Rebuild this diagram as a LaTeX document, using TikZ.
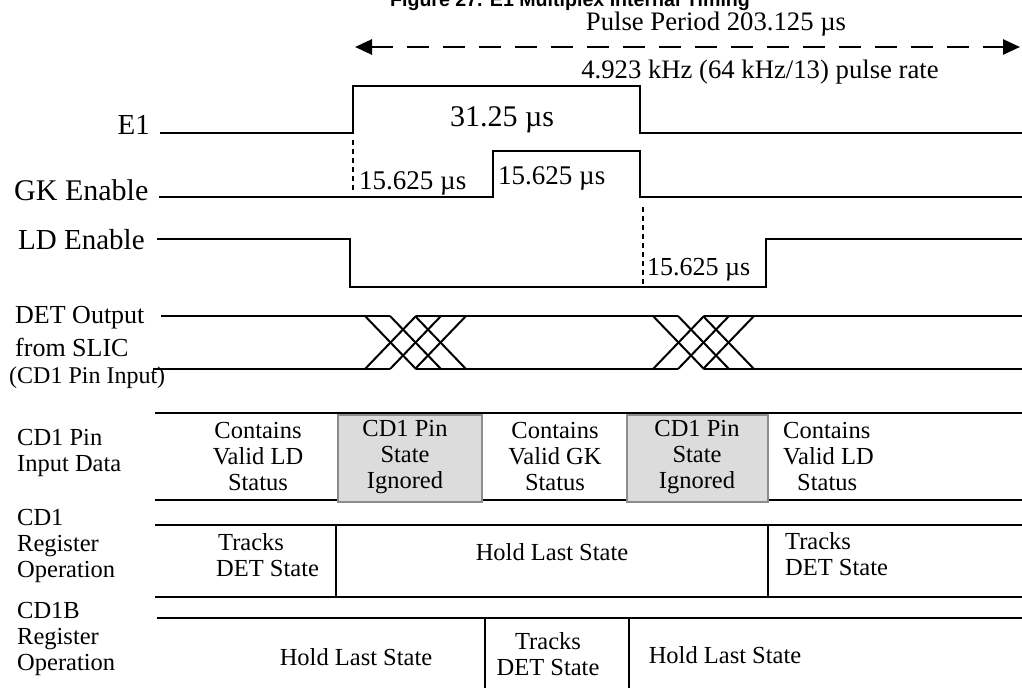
\documentclass[tikz,border=0pt]{standalone}
\usepackage{fontspec}
\setmainfont{Liberation Serif}
\newfontfamily\titlefont{Liberation Sans}
\usepackage{tikz}
\usetikzlibrary{arrows.meta}
\definecolor{ignfill}{HTML}{DCDCDC}
\definecolor{ignedge}{HTML}{8C8C8C}

\begin{document}
\begin{tikzpicture}[x=1pt,y=-1pt,
  every node/.style={inner sep=0pt,font=\fontsize{24.5}{26}\selectfont},
  big/.style={font=\fontsize{#1}{#1}\selectfont},
  sig/.style={line width=2.7pt},
  xing/.style={line width=2pt},
  dotline/.style={line width=2.7pt,dash pattern=on 5pt off 4pt},
  ignbox/.style={fill=ignfill,draw=ignedge,line width=2.7pt}]
  \useasboundingbox (0,0) rectangle (1022,688);
  \node[anchor=base,font=\titlefont\bfseries\fontsize{19.6}{22}\selectfont] (title) at (570,6) {Figure 27. E1 Multiplex Internal Timing};
  \node[anchor=base,big=26.7] (period) at (716,30) {Pulse Period 203.125 µs};
  \coordinate (pl) at (355,47);
  \coordinate (pr) at (1020,47);
  \draw[sig,dash pattern=on 22pt off 14pt,{Triangle[length=17pt,width=15pt]}-{Triangle[length=17pt,width=15pt]}] (pl) -- (pr);
  \node[anchor=base,big=26.7] (rate) at (760,78) {4.923 kHz (64 kHz/13) pulse rate};
  \node[anchor=east,big=29] (e1) at (150,125) {E1};
  \draw[sig] (160,133) -- (353,133) -- (353,86) -- (640,86) -- (640,133) -- (1022,133);
  \node[big=30] (e1w) at (502,120) {31.25 µs};
  \draw[dotline] (353,140) -- (353,191);
  \node[anchor=west,big=30] (gk) at (14,190) {GK Enable};
  \draw[sig] (159,197) -- (493,197) -- (493,151) -- (640,151) -- (640,197) -- (1022,197);
  \node[anchor=west,big=27] (gkw1) at (359,183) {15.625 µs};
  \node[anchor=west,big=27] (gkw2) at (498,178) {15.625 µs};
  \node[anchor=west,big=29] (ld) at (18,240) {LD Enable};
  \draw[sig] (157,239) -- (350,239) -- (350,287) -- (766,287) -- (766,239) -- (1022,239);
  \draw[dotline] (643,207) -- (643,284);
  \node[anchor=west,big=26] (ldw) at (647,270) {15.625 µs};
  \node[anchor=west,big=26] (det) at (15,318) {DET Output};
  \node[anchor=west,big=26] (slic) at (15,347) {from SLIC};
  \node[anchor=west,big=24] (cdin) at (9,378) {(CD1 Pin Input)};
  \draw[sig] (161,316) -- (390,316) (416,316) -- (678,316) (704,316) -- (1022,316);
  \draw[sig] (153,369) -- (390,369) (416,369) -- (678,369) (704,369) -- (1022,369);
  \foreach \a in {365,653} \foreach \i in {0,1,2} {
    \draw[xing] (\a+25*\i,316) -- (\a+25*\i+51,369);
    \draw[xing] (\a+25*\i,369) -- (\a+25*\i+51,316);
  }
  \node[anchor=west,align=left] (pinlbl) at (17,453) {CD1 Pin\\Input Data};
  \draw[sig] (155,413) -- (1022,413) (155,500) -- (1022,500);
  \foreach \l/\r in {338/482,627/768} \draw[ignbox] (\l,415) rectangle (\r,502);
  \node[align=center] (pin1) at (258,457) {Contains\\Valid LD\\Status};
  \node[align=center] (ign1) at (405,457) {CD1 Pin\\State\\Ignored};
  \node[align=center] (pin2) at (555,457) {Contains\\Valid GK\\Status};
  \node[align=center] (ign2) at (697,457) {CD1 Pin\\State\\Ignored};
  \node[anchor=west,align=left] (pin3) at (783,457) {Contains\\Valid LD\\\hspace*{14pt}Status};
  \node[anchor=west,align=left] (reglbl) at (17,546) {CD1\\Register\\Operation};
  \draw[sig] (155,525) -- (1022,525) (155,597) -- (1022,597) (336,525) -- (336,597) (768,525) -- (768,597);
  \node[anchor=west,align=left] (reg1) at (216,555) {\hspace*{2pt}Tracks\\DET State};
  \node (reg2) at (552,552) {Hold Last State};
  \node[anchor=west,align=left] (reg3) at (785,554) {Tracks\\DET State};
  \node[anchor=west,align=left] (breglbl) at (17,639) {CD1B\\Register\\Operation};
  \draw[sig] (157,618) -- (1022,618) (485,618) -- (485,688) (629,618) -- (629,688);
  \node (breg1) at (356,657) {Hold Last State};
  \node[align=center] (breg2) at (548,654) {Tracks\\DET State};
  \node (breg3) at (725,655) {Hold Last State};
\end{tikzpicture}
\end{document}
